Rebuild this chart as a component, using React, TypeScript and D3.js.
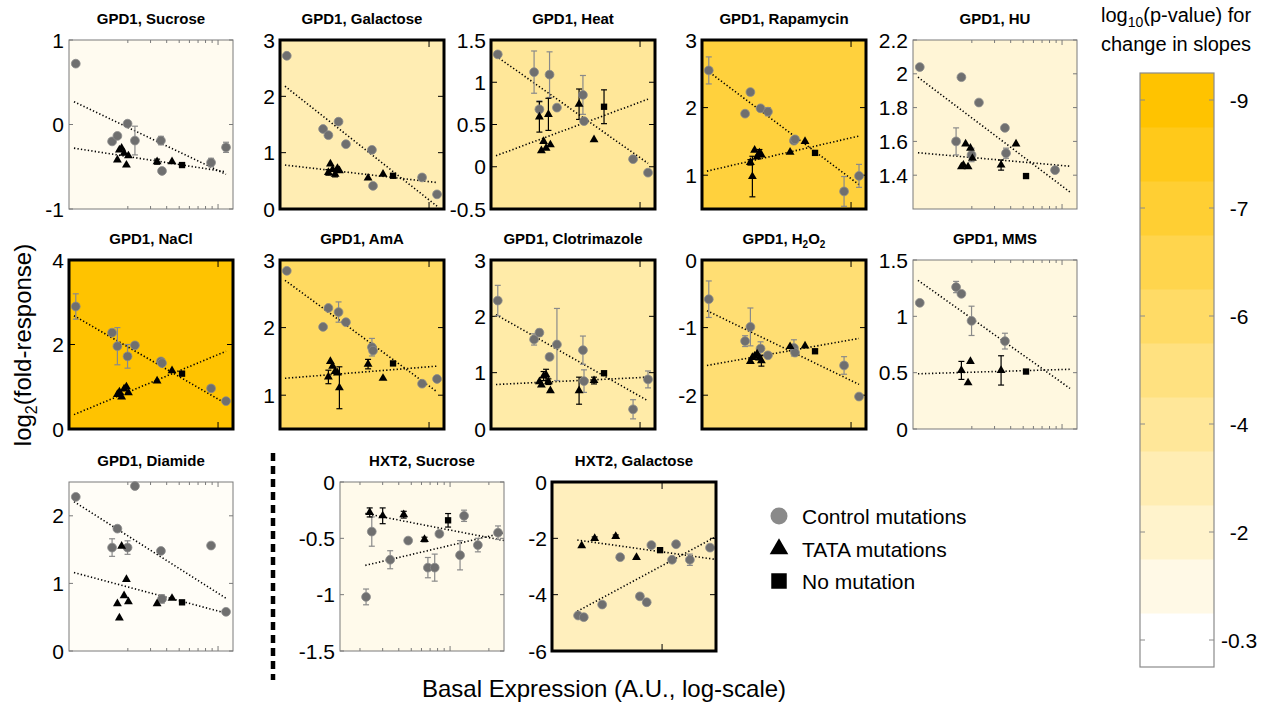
import React from 'react';
import * as d3 from 'd3';

// ---------- data ----------
const panelTitles = [
  'GPD1, Sucrose', 'GPD1, Galactose', 'GPD1, Heat', 'GPD1, Rapamycin', 'GPD1, HU',
  'GPD1, NaCl', 'GPD1, AmA', 'GPD1, Clotrimazole', 'GPD1, H2O2', 'GPD1, MMS',
  'GPD1, Diamide', 'HXT2, Sucrose', 'HXT2, Galactose',
];

// basal expression (A.U.) of each strain
const gpd1CtrlX = [7.9, 15.1, 16.6, 19.9, 22.7, 36.1, 36.8, 88.3, 115.3];
const gpd1TataX = [16.6, 17.2, 17.9, 18.7, 19.5, 20.2, 33.7, 44.0];
const gpd1NoMutX = 52.6;
const hxt2CtrlX = [22.3, 24.7, 34.3, 47.3, 67.3, 76.0, 82.6, 119.5, 128.4, 164.3, 235.5];
const hxt2TataX = [23.8, 30.0, 43.7, 63.3];
const hxt2NoMutX = 96.5;

const gpd1XDomain = [7.0, 130.6];
const hxt2XDomain = [14.0, 262];
const gpd1FitX = [7.65, 115.3];
const hxt2FitX = [22, 262];
const gpd1MinorTicks = [20, 30, 40, 50, 60, 70, 80, 90];
const hxt2MinorTicks = [20, 30, 40, 50, 60, 70, 80, 90, 200];
const majorTicks = [100];

const yDomains = [
  [-1, 1], [0, 3], [-0.5, 1.5], [0.5, 3], [1.2, 2.2],
  [0, 4], [0.5, 3], [0, 3], [-2.5, 0], [0, 1.5],
  [0, 2.5], [-1.5, 0], [-6, 0],
];
const yTicks = [
  [-1, 0, 1], [0, 1, 2, 3], [-0.5, 0, 0.5, 1, 1.5], [1, 2, 3], [1.4, 1.6, 1.8, 2, 2.2],
  [0, 2, 4], [1, 2, 3], [0, 1, 2, 3], [-2, -1, 0], [0, 0.5, 1, 1.5],
  [0, 1, 2], [-1.5, -1, -0.5, 0], [-6, -4, -2, 0],
];

// control mutations (circles)
const ctrlY = [
  [0.72, -0.2, -0.135, 0.01, -0.19, -0.19, -0.55, -0.45, -0.27],
  [2.72, 1.42, 1.31, 1.55, 1.15, 1.05, 0.41, 0.56, 0.26],
  [1.33, 1.12, 0.68, 1.09, 0.7, 0.85, 0.54, 0.09, -0.07],
  [2.55, 1.91, 2.23, 1.99, 1.94, 1.51, 1.53, 0.76, 0.99],
  [2.04, 1.6, 1.98, 1.52, 1.83, 1.68, 1.53, 1.43, null],
  [2.9, 2.28, 1.96, 1.72, 1.98, 1.6, 1.56, 0.96, 0.66],
  [2.84, 2.01, 2.29, 2.23, 2.08, 1.71, 1.66, 1.17, 1.24],
  [2.28, 1.59, 1.71, 1.28, 1.5, 1.4, 0.85, 0.35, 0.88],
  [-0.58, -1.2, -0.99, -1.31, -1.41, -1.3, -1.37, -1.56, -2.02],
  [1.12, 1.26, 1.2, 0.96, null, 0.78, null, null, null],
  [2.28, 1.53, 1.81, 1.53, 2.44, 1.48, 0.77, 1.56, 0.58],
  [-1.02, -0.44, -0.69, -0.52, -0.76, -0.76, -0.46, -0.65, -0.3, -0.56, -0.45],
  [-4.74, -4.8, -4.35, -2.67, -4.06, -4.27, -2.24, -2.76, -2.21, -2.76, -2.33],
];
const ctrlErr = [
  [0, 0, 0, 0, 0.17, 0.05, 0, 0.05, 0.06],
  [0, 0, 0, 0, 0, 0.05, 0, 0, 0],
  [0.03, 0.25, 0.1, 0.27, 0, 0.23, 0, 0, 0],
  [0.2, 0.03, 0.04, 0, 0.06, 0.03, 0, 0.22, 0.17],
  [0, 0.08, 0, 0.04, 0, 0, 0.03, 0, 0],
  [0.3, 0, 0.44, 0.28, 0, 0, 0.05, 0, 0],
  [0, 0, 0, 0.15, 0, 0.13, 0, 0, 0],
  [0.27, 0.1, 0.06, 0.05, 0.64, 0.25, 0.2, 0.17, 0.15],
  [0.27, 0.08, 0.28, 0.1, 0, 0.12, 0, 0.13, 0],
  [0, 0.05, 0, 0.13, 0, 0.07, 0, 0, 0],
  [0, 0.13, 0, 0.1, 0, 0, 0.06, 0, 0],
  [0.07, 0.13, 0.08, 0, 0.09, 0.12, 0, 0.13, 0.05, 0.06, 0.06],
  [0, 0.1, 0, 0, 0.1, 0, 0, 0, 0, 0.2, 0],
];

// TATA mutations (triangles)
const tataY = [
  [-0.42, -0.3, -0.28, -0.34, -0.48, -0.37, -0.44, -0.44],
  [0.65, 0.8, 0.7, 0.62, 0.72, 0.68, 0.55, 0.62],
  [0.59, 0.19, 0.3, 0.22, 0.62, 0.26, 0.74, 0.32],
  [1.19, 0.98, 1.37, 1.27, 1.33, 1.3, 1.34, 1.5],
  [1.45, 1.46, 1.585, 1.45, 1.56, 1.5, 1.46, 1.585],
  [0.82, 0.88, 0.76, 0.95, 1.0, 0.86, 1.14, 1.38],
  [1.27, 1.5, 1.43, 1.35, 1.33, 1.11, 1.46, 1.25],
  [0.84, 0.78, 0.94, 0.96, 0.84, 0.68, 0.68, 0.86],
  [-1.5, -1.44, -1.42, -1.39, -1.45, -1.49, -1.28, -1.27],
  [0.52, null, null, 0.41, 0.6, null, 0.52, null],
  [0.7, 0.49, 1.55, 0.82, 1.06, 0.73, 0.7, 0.78],
  [-0.27, -0.3, -0.29, -0.51],
  [-2.26, -2.0, -1.93, -2.68],
];
const tataErr = [
  [0, 0, 0, 0, 0, 0, 0.03, 0],
  [0.05, 0, 0, 0.05, 0, 0, 0, 0],
  [0.18, 0, 0, 0, 0.19, 0, 0.18, 0],
  [0.04, 0.3, 0, 0, 0.05, 0, 0, 0],
  [0, 0, 0, 0, 0, 0, 0.03, 0],
  [0, 0, 0, 0, 0, 0, 0, 0],
  [0.1, 0, 0, 0, 0, 0.31, 0.07, 0],
  [0, 0, 0.08, 0.1, 0.05, 0, 0.24, 0.06],
  [0, 0, 0, 0, 0, 0.08, 0, 0],
  [0.08, 0, 0, 0, 0, 0, 0.13, 0],
  [0, 0, 0, 0, 0, 0, 0, 0],
  [0.04, 0.07, 0.03, 0.02],
  [0, 0.05, 0.05, 0],
];

// no mutation (square)
const noMutY = [-0.48, 0.59, 0.71, 1.33, 1.395, 1.31, 1.47, 0.99, -1.35, 0.51, 0.72, -0.34, -2.42];
const noMutErr = [0, 0, 0.2, 0, 0, 0, 0, 0, 0, 0, 0, 0.06, 0];

// regression lines: [y at left end, y at right end]
const ctrlFit = [
  [0.27, -0.59], [2.18, 0.05], [1.31, 0.04], [2.55, 0.86], [1.98, 1.3],
  [2.68, 0.6], [2.7, 1.05], [2.03, 0.5], [-0.75, -1.84], [1.32, 0.36],
  [2.21, 0.78], [-0.74, -0.45], [-4.59, -1.94],
];
const tataFit = [
  [-0.28, -0.56], [0.78, 0.47], [0.13, 0.8], [1.06, 1.58], [1.533, 1.453],
  [0.34, 1.84], [1.25, 1.43], [0.79, 0.92], [-1.56, -1.16], [0.49, 0.53],
  [1.16, 0.56], [-0.28, -0.52], [-2.06, -2.75],
];

// colour level (0..10 on the colour bar) and significance
const panelLevel = [0.6, 3, 4, 7.6, 1.6, 10, 6.2, 3.4, 5.5, 1.2, 0.3, 0.8, 2.6];
const significant = [false, true, true, true, false, true, true, true, true, false, false, false, true];

const colorbarLabels = ['-0.3', '-2', '-4', '-6', '-7', '-9'];
const colorbarLabelBands = [0, 2, 4, 6, 8, 10];
const bandCount = 11;

const legendLabels = ['Control mutations', 'TATA mutations', 'No mutation'];

// ---------- layout ----------
const FONT = 'Liberation Sans, Arial, Helvetica, sans-serif';
const BOX_W = 164;
const BOX_H = 169;
const levelColor = (v: number) => d3.interpolateRgb('#ffffff', '#ffc300')(v / 10);

function panelPos(i: number): [number, number] {
  if (i < 5) return [69 + 211 * i, 40];
  if (i < 10) return [69 + 211 * (i - 5), 260];
  return [[69, 340, 552][i - 10], 482];
}

function Title({ text, x, y }: { text: string; x: number; y: number }) {
  if (text.includes('H2O2')) {
    return (
      <text x={x} y={y} textAnchor="middle" fontFamily={FONT} fontWeight="bold" fontSize={15}>
        GPD1, H<tspan fontSize={10} dy={4}>2</tspan>
        <tspan dy={-4}>O</tspan>
        <tspan fontSize={10} dy={4}>2</tspan>
      </text>
    );
  }
  return (
    <text x={x} y={y} textAnchor="middle" fontFamily={FONT} fontWeight="bold" fontSize={15}>
      {text}
    </text>
  );
}

function Panel({ i }: { i: number }) {
  const [x0, y0] = panelPos(i);
  const hxt = i >= 11;
  const x = d3.scaleLog().domain(hxt ? hxt2XDomain : gpd1XDomain).range([x0, x0 + BOX_W]);
  const y = d3.scaleLinear().domain(yDomains[i]).range([y0 + BOX_H, y0]);
  const thick = significant[i];
  const edge = thick ? '#000' : '#7a7a7a';
  const cx = hxt ? hxt2CtrlX : gpd1CtrlX;
  const tx = hxt ? hxt2TataX : gpd1TataX;
  const nx = hxt ? hxt2NoMutX : gpd1NoMutX;
  const fx = hxt ? hxt2FitX : gpd1FitX;
  const minor = hxt ? hxt2MinorTicks : gpd1MinorTicks;
  const line = d3.line<[number, number]>().x((d) => x(d[0])).y((d) => y(d[1]));
  const tri = d3.symbol(d3.symbolTriangle, 34)()!;
  const sq = d3.symbol(d3.symbolSquare, 40)()!;
  const err = (xv: number, v: number, e: number, color: string, key: string) =>
    e > 0 ? (
      <g key={key} stroke={color} strokeWidth={1.2}>
        <line x1={x(xv)} x2={x(xv)} y1={y(v - e)} y2={y(v + e)} />
        <line x1={x(xv) - 3} x2={x(xv) + 3} y1={y(v - e)} y2={y(v - e)} />
        <line x1={x(xv) - 3} x2={x(xv) + 3} y1={y(v + e)} y2={y(v + e)} />
      </g>
    ) : null;

  const tl = thick ? 6 : 4;
  return (
    <g>
      <rect x={x0} y={y0} width={BOX_W} height={BOX_H} fill={levelColor(panelLevel[i])} />
      {/* ticks */}
      <g stroke={edge} strokeWidth={1}>
        {yTicks[i].map((t) => (
          <g key={'yt' + t}>
            <line x1={x0} x2={x0 + tl} y1={y(t)} y2={y(t)} />
            <line x1={x0 + BOX_W - tl} x2={x0 + BOX_W} y1={y(t)} y2={y(t)} />
          </g>
        ))}
        {!thick &&
          minor.map((t) => (
            <g key={'xm' + t}>
              <line x1={x(t)} x2={x(t)} y1={y0} y2={y0 + 3} />
              <line x1={x(t)} x2={x(t)} y1={y0 + BOX_H - 3} y2={y0 + BOX_H} />
            </g>
          ))}
        {majorTicks.map((t) => (
          <g key={'xM' + t}>
            <line x1={x(t)} x2={x(t)} y1={y0} y2={y0 + tl + 1} />
            <line x1={x(t)} x2={x(t)} y1={y0 + BOX_H - tl - 1} y2={y0 + BOX_H} />
          </g>
        ))}
      </g>
      {/* fits */}
      <path d={line([[fx[0], ctrlFit[i][0]], [fx[1], ctrlFit[i][1]]])!} stroke="#000" strokeWidth={1.6} strokeDasharray="1.3 2.2" fill="none" />
      <path d={line([[fx[0], tataFit[i][0]], [fx[1], tataFit[i][1]]])!} stroke="#000" strokeWidth={1.6} strokeDasharray="1.3 2.2" fill="none" />
      {/* error bars */}
      {ctrlY[i].map((v, k) => (v === null ? null : err(cx[k], v, ctrlErr[i][k], '#8a8a8a', 'ce' + k)))}
      {tataY[i].map((v, k) => (v === null ? null : err(tx[k], v, tataErr[i][k], '#000', 'te' + k)))}
      {err(nx, noMutY[i], noMutErr[i], '#000', 'ne')}
      {/* markers */}
      {ctrlY[i].map((v, k) =>
        v === null ? null : <circle key={'c' + k} cx={x(cx[k])} cy={y(v)} r={4.4} fill="#6f6f6f" stroke="#8c8c8c" strokeWidth={0.8} />
      )}
      {tataY[i].map((v, k) =>
        v === null ? null : <path key={'t' + k} d={tri} transform={`translate(${x(tx[k])},${y(v)})`} fill="#000" />
      )}
      <path d={sq} transform={`translate(${x(nx)},${y(noMutY[i])})`} fill="#000" />
      {/* border */}
      <rect x={x0} y={y0} width={BOX_W} height={BOX_H} fill="none" stroke={edge} strokeWidth={thick ? 3 : 1} />
      {/* tick labels */}
      {yTicks[i].map((t) => (
        <text key={'yl' + t} x={x0 - 5} y={y(t)} dy="0.36em" textAnchor="end" fontFamily={FONT} fontSize={21}>
          {String(t)}
        </text>
      ))}
      <Title text={panelTitles[i]} x={x0 + BOX_W / 2} y={y0 - 16} />
    </g>
  );
}

function Colorbar() {
  const x0 = 1140, w = 74, y0 = 73, h = 594;
  const band = d3.scaleBand<number>().domain(d3.range(bandCount)).range([y0 + h, y0]).paddingInner(0);
  return (
    <g>
      {d3.range(bandCount).map((k) => (
        <rect key={k} x={x0} y={band(k)!} width={w} height={band.bandwidth() + 0.5} fill={levelColor(k)} />
      ))}
      <rect x={x0} y={y0} width={w} height={h} fill="none" stroke="#8a8a8a" strokeWidth={1.2} />
      {colorbarLabelBands.map((b, k) => {
        const yy = band(b)! + band.bandwidth() / 2;
        return (
          <g key={k}>
            <line x1={x0} x2={x0 + 5} y1={yy} y2={yy} stroke="#8a8a8a" />
            <line x1={x0 + w - 5} x2={x0 + w} y1={yy} y2={yy} stroke="#8a8a8a" />
            <text x={1239} y={yy} dy="0.36em" textAnchor="middle" fontFamily={FONT} fontSize={21}>
              {colorbarLabels[k]}
            </text>
          </g>
        );
      })}
      <text x={1101} y={22} fontFamily={FONT} fontSize={20}>
        log<tspan fontSize={14} dy={5}>10</tspan>
        <tspan dy={-5}>(p-value) for</tspan>
      </text>
      <text x={1101} y={51} fontFamily={FONT} fontSize={20}>
        change in slopes
      </text>
    </g>
  );
}

function Legend() {
  const lx = 779;
  const ys = [516, 549, 581];
  const tri = d3.symbol(d3.symbolTriangle, 150)()!;
  const sq = d3.symbol(d3.symbolSquare, 240)()!;
  return (
    <g>
      <circle cx={lx} cy={ys[0]} r={8.5} fill="#8a8a8a" />
      <path d={tri} transform={`translate(${lx},${ys[1]})`} fill="#000" />
      <path d={sq} transform={`translate(${lx},${ys[2]})`} fill="#000" />
      {legendLabels.map((t, k) => (
        <text key={t} x={802} y={ys[k]} dy="0.36em" fontFamily={FONT} fontSize={21}>
          {t}
        </text>
      ))}
    </g>
  );
}

export default function App() {
  return (
    <svg width={1280} height={706} style={{ position: 'absolute', left: 0, top: 0, background: '#fff' }}>
      <rect width={1280} height={706} fill="#fff" />
      {panelTitles.map((_, i) => (
        <Panel key={i} i={i} />
      ))}
      <line x1={273} x2={273} y1={453} y2={680} stroke="#000" strokeWidth={4.5} strokeDasharray="8 5" />
      <Legend />
      <Colorbar />
      <text transform="translate(31,345) rotate(-90)" textAnchor="middle" fontFamily={FONT} fontSize={24}>
        log<tspan fontSize={16} dy={6}>2</tspan>
        <tspan dy={-6}>(fold-response)</tspan>
      </text>
      <text x={604} y={697} textAnchor="middle" fontFamily={FONT} fontSize={24}>
        Basal Expression (A.U., log-scale)
      </text>
    </svg>
  );
}
